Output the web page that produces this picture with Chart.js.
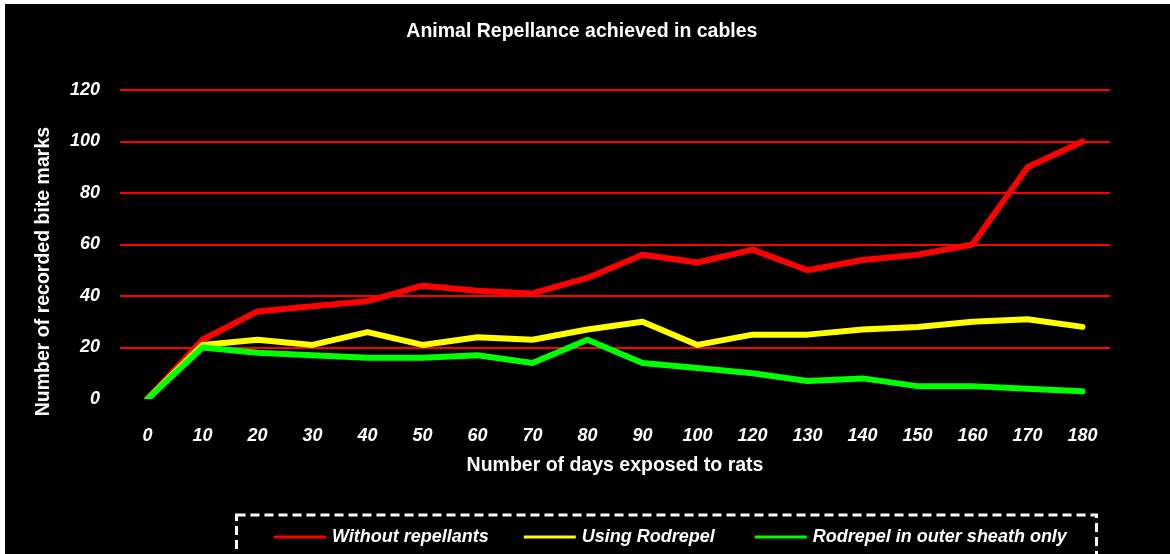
<!DOCTYPE html>
<html>
<head>
<meta charset="utf-8">
<script src="https://cdn.jsdelivr.net/npm/chart.js@4.4.1/dist/chart.umd.min.js"></script>
<style>
  html, body { margin: 0; padding: 0; background: #fff; }
  #wrap { position: absolute; left: 5px; top: 4px; width: 1165px; height: 550px; background: #000; }
</style>
</head>
<body>
<div id="wrap"><canvas id="bites"></canvas></div>
<script>
const days = ['0', '10', '20', '30', '40', '50', '60', '70', '80', '90', '100', '120', '130', '140', '150', '160', '170', '180'];
const withoutRepellants = [0, 23, 34, 36, 38, 44, 42, 41, 47, 56, 53, 58, 50, 54, 56, 60, 90, 100];
const usingRodrepel = [0, 21, 23, 21, 26, 21, 24, 23, 27, 30, 21, 25, 25, 27, 28, 30, 31, 28];
const outerSheathOnly = [0, 20, 18, 17, 16, 16, 17, 14, 23, 14, 12, 10, 7, 8, 5, 5, 4, 3];

const FONT = "'Liberation Sans', Arial, sans-serif";

// legend in a dashed box at the bottom, partly cut off like the original
const dashedLegend = {
  id: 'dashedLegend',
  afterDraw(chart) {
    const ctx = chart.ctx;
    ctx.save();
    ctx.strokeStyle = '#fff';
    ctx.lineWidth = 3;
    ctx.setLineDash([9, 5]);
    ctx.strokeRect(231.5, 511, 860, 60);
    ctx.setLineDash([]);

    ctx.font = 'italic bold 18px ' + FONT;
    ctx.textBaseline = 'middle';
    const gaps = [35, 40];
    let x = 269;
    const y = 533;
    chart.data.datasets.forEach((ds, i) => {
      ctx.strokeStyle = ds.borderColor;
      ctx.lineWidth = 3;
      ctx.beginPath();
      ctx.moveTo(x, y);
      ctx.lineTo(x + 52, y);
      ctx.stroke();
      x += 58;
      ctx.fillStyle = '#fff';
      ctx.fillText(ds.label, x, y);
      x += ctx.measureText(ds.label).width + (gaps[i] || 0);
    });
    ctx.restore();
  }
};

new Chart(document.getElementById('bites'), {
  type: 'line',
  data: {
    labels: days,
    datasets: [
      { label: 'Without repellants', data: withoutRepellants, borderColor: '#ff0000', order: 2 },
      { label: 'Using Rodrepel', data: usingRodrepel, borderColor: '#ffff00', order: 1 },
      { label: 'Rodrepel in outer sheath only', data: outerSheathOnly, borderColor: '#00ff00', order: 0 }
    ]
  },
  options: {
    responsive: true,
    maintainAspectRatio: false,
    animation: false,
    layout: { padding: { left: 0, right: 60, top: 0, bottom: 0 } },
    elements: {
      line: { borderWidth: 6, tension: 0, borderCapStyle: 'round', borderJoinStyle: 'round', fill: false },
      point: { radius: 0, hoverRadius: 0 }
    },
    datasets: { line: { clip: 0 } },
    plugins: {
      legend: { display: false },
      tooltip: { enabled: false },
      title: {
        display: true,
        // leading spaces nudge the centred title to the right, as in the original
        text: '         Animal Repellance achieved in cables',
        color: '#fff',
        font: { family: FONT, size: 19.5, weight: 'bold' },
        padding: { top: 16, bottom: 46.6 }
      }
    },
    scales: {
      x: {
        offset: true,
        grid: { display: false },
        border: { display: false },
        ticks: { color: '#fff', padding: 18, maxRotation: 0, autoSkip: false, font: { family: FONT, size: 18, weight: 'bold', style: 'italic' } },
        title: {
          display: true,
          text: 'Number of days exposed to rats',
          color: '#fff',
          font: { family: FONT, size: 19.5, weight: 'bold' },
          padding: { top: 0, bottom: 77 }
        },
        afterFit: s => { s.height = 155; }
      },
      y: {
        min: 0,
        max: 120,
        ticks: { stepSize: 20, color: '#fff', padding: 20, font: { family: FONT, size: 18, weight: 'bold', style: 'italic' } },
        grid: {
          drawTicks: false,
          lineWidth: 2,
          color: c => (c.tick && c.tick.value === 0) ? 'rgba(0,0,0,0)' : '#ff0000'
        },
        border: { display: false },
        title: {
          display: true,
          text: 'Number of recorded bite marks          ',
          color: '#fff',
          font: { family: FONT, size: 19.5, weight: 'bold' },
          padding: { top: 27, bottom: 0 }
        },
        afterFit: s => { s.width = 115; }
      }
    }
  },
  plugins: [dashedLegend]
});
</script>
</body>
</html>
